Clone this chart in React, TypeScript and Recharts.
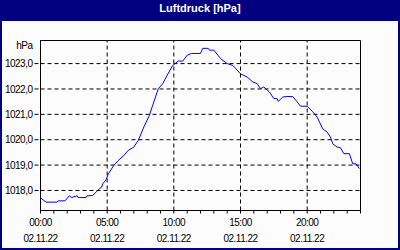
import { LineChart, Line, XAxis, YAxis, CartesianGrid, ReferenceLine, ReferenceArea } from 'recharts';

const title = 'Luftdruck [hPa]';
const unit = 'hPa';
const dateLabel = '02.11.22';

// minutes since 00:00
const minutes = [
  0, 25, 75, 80, 110, 130, 140, 165, 170, 205, 210, 235, 250, 265, 275, 280, 295, 305, 330, 350,
  375, 395, 420, 435, 440, 465, 490, 505, 530, 550, 570, 595, 620, 640, 660, 680, 720, 730, 755, 760,
  780, 810, 840, 865, 900, 930, 955, 975, 990, 1005, 1030, 1050, 1065, 1070, 1090, 1105, 1135, 1155, 1170, 1200,
  1225, 1245, 1270, 1290, 1305, 1315, 1335, 1350, 1365, 1390, 1405, 1420, 1435,
];
const pressure = [
  1017.71, 1017.54, 1017.54, 1017.59, 1017.59, 1017.79, 1017.72, 1017.79, 1017.72, 1017.72, 1017.79, 1017.8, 1017.93, 1018.07, 1018.13, 1018.26, 1018.42, 1018.65, 1018.99, 1019.18,
  1019.38, 1019.58, 1019.71, 1019.91, 1019.97, 1020.5, 1020.96, 1021.36, 1022.01, 1022.21, 1022.54, 1022.93, 1023.1, 1023.1, 1023.33, 1023.4, 1023.4, 1023.6, 1023.6, 1023.53,
  1023.53, 1023.2, 1023.0, 1022.93, 1022.6, 1022.47, 1022.28, 1022.21, 1022.01, 1022.08, 1021.88, 1021.62, 1021.62, 1021.51, 1021.68, 1021.7, 1021.7, 1021.49, 1021.32, 1021.32,
  1021.1, 1020.89, 1020.43, 1020.3, 1020.1, 1019.84, 1019.71, 1019.68, 1019.45, 1019.45, 1019.05, 1019.05, 1018.86,
];

const hourTicks = Array.from({ length: 25 }, (_, i) => i * 60);
const labelTicks = [0, 300, 600, 900, 1200];
const pressureTicks = [1018, 1019, 1020, 1021, 1022, 1023];
const yDomain = [1017.21, 1023.91];

const data = minutes.map((t, i) => ({ t, p: pressure[i] }));

const font = '"Liberation Sans", Arial, sans-serif';

function TimeTick({ x, y, payload }: any) {
  const m = payload.value;
  if (!labelTicks.includes(m)) return <g />;
  const hh = String(Math.floor(m / 60)).padStart(2, '0');
  return (
    <g>
      <text x={x} y={y + 10.5} textAnchor="middle" fill="#000" fontSize={10} letterSpacing={-0.5} fontFamily={font}>
        {hh}:00
      </text>
      <text x={x} y={y + 26} textAnchor="middle" fill="#000" fontSize={10} letterSpacing={-0.5} fontFamily={font}>
        {dateLabel}
      </text>
    </g>
  );
}

export default function App() {
  return (
    <div style={{ position: 'absolute', left: 0, top: 0, width: 400, height: 250, background: '#fcfcfc', fontFamily: font }}>
      <LineChart width={400} height={250} data={data} margin={{ top: 40.5, right: 39.5, bottom: 0, left: 0 }}>
        <CartesianGrid vertical={false} stroke="#000" strokeDasharray="4 3" />
        {labelTicks.slice(1).map((m) => (
          <ReferenceLine key={m} x={m} stroke="#000" strokeDasharray="4 3" />
        ))}
        <XAxis
          dataKey="t"
          type="number"
          domain={[0, 1440]}
          ticks={hourTicks}
          interval={0}
          height={39.5}
          tickSize={3}
          tickMargin={2}
          axisLine={{ stroke: '#000' }}
          tickLine={{ stroke: '#000' }}
          tick={<TimeTick />}
        />
        <YAxis
          type="number"
          domain={yDomain}
          ticks={pressureTicks}
          allowDataOverflow
          width={40.5}
          tickSize={6}
          tickMargin={2}
          axisLine={{ stroke: '#000' }}
          tickLine={{ stroke: '#000', strokeDasharray: '4 2' }}
          tick={{ fill: '#000', fontSize: 10, letterSpacing: -0.5, fontFamily: font }}
          tickFormatter={(v: number) => v.toFixed(1).replace('.', ',')}
          label={({ viewBox }: any) => (
            <text x={viewBox.x + viewBox.width - 8} y={viewBox.y + 8} textAnchor="end" fill="#000" fontSize={10} letterSpacing={-0.5} fontFamily={font}>
              {unit}
            </text>
          )}
        />
        <ReferenceArea x1={0} x2={1440} y1={yDomain[0]} y2={yDomain[1]} fill="none" stroke="#000" strokeWidth={1} />
        <Line type="linear" dataKey="p" stroke="#0000ff" strokeWidth={1} dot={false} isAnimationActive={false} />
      </LineChart>
      <div
        style={{
          position: 'absolute', left: 0, top: 0, width: 400, height: 21, background: '#000080', color: '#fff',
          fontWeight: 'bold', fontSize: 11, lineHeight: '17px', textAlign: 'center',
        }}
      >
        {title}
      </div>
      <div
        style={{
          position: 'absolute', left: 0, top: 0, width: 400, height: 250, boxSizing: 'border-box',
          border: '2px solid #000080', borderTop: 'none', pointerEvents: 'none',
        }}
      />
    </div>
  );
}
